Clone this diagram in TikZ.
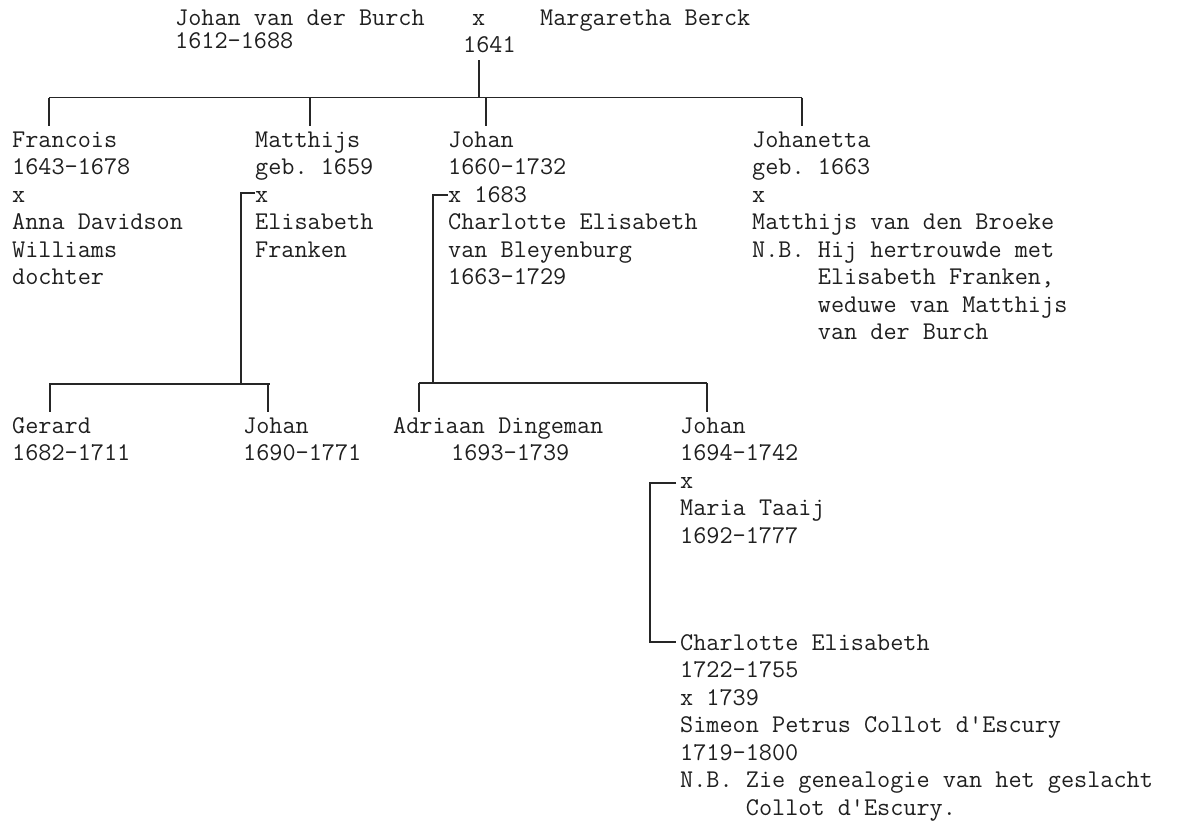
\documentclass[tikz,border=0pt]{standalone}
\usepackage{fontspec}
\begin{document}
\begin{tikzpicture}[x=1pt,y=-1pt,
  txt/.style={anchor=north west, inner sep=0pt, align=left,
    font=\fontsize{25.5}{27.5}\selectfont\ttfamily\frenchspacing, text=black!88},
  toptxt/.style={txt, font=\fontsize{25.5}{23}\selectfont\ttfamily\frenchspacing},
  ln/.style={draw=black!85, line width=1.3pt}]
\useasboundingbox (0,0) rectangle (1179,828);
\fill[white] (0,0) rectangle (1179,828);

% parents
\node[toptxt] (father) at (175,7) {\rule{0pt}{18pt}Johan van der Burch\\1612-1688};
\node[txt] (marx) at (472,7) {\rule{0pt}{18pt}x};
\node[txt] (mardate) at (463,34) {\rule{0pt}{18pt}1641};
\node[txt] (mother) at (540,7) {\rule{0pt}{18pt}Margaretha Berck};

% children
\node[txt] (francois) at (12,129) {\rule{0pt}{18pt}Francois\\1643-1678\\x\\Anna Davidson\\Williams\\dochter};
\node[txt] (matthijs) at (255,129) {\rule{0pt}{18pt}Matthijs\\geb. 1659\\x\\Elisabeth\\Franken};
\node[txt] (johan) at (448,129) {\rule{0pt}{18pt}Johan\\1660-1732\\x 1683\\Charlotte Elisabeth\\van Bleyenburg\\1663-1729};
\node[txt] (johanetta) at (752,129) {\rule{0pt}{18pt}Johanetta\\geb. 1663\\x\\Matthijs van den Broeke\\N.B. Hij hertrouwde met\\\phantom{N.B.\ }Elisabeth Franken,\\\phantom{N.B.\ }weduwe van Matthijs\\\phantom{N.B.\ }van der Burch};

% grandchildren
\node[txt] (gerard) at (12,415) {\rule{0pt}{18pt}Gerard\\1682-1711};
\node[txt] (johanb) at (243,415) {\rule{0pt}{18pt}Johan\\1690-1771};
\node[txt] (adriaan) at (393,415) {\rule{0pt}{18pt}Adriaan Dingeman\\\hspace*{58pt}1693-1739};
\node[txt] (johanc) at (680,415) {\rule{0pt}{18pt}Johan\\1694-1742\\x\\Maria Taaij\\1692-1777};
\node[txt] (charlotte) at (680,632) {\rule{0pt}{18pt}Charlotte Elisabeth\\1722-1755\\x 1739\\Simeon Petrus Collot d\textquotesingle Escury\\1719-1800\\N.B. Zie genealogie van het geslacht\\\phantom{N.B.\ }Collot d\textquotesingle Escury.};

% connector coordinates
\coordinate (m0) at (479,60);
\coordinate (m1) at (479,97.5);
\coordinate (hL) at (49,97.5);
\coordinate (hR) at (802,97.5);
\foreach \n/\xx in {df/49, dm/310, dj/486, dh/802}{
  \coordinate (\n a) at (\xx,97.5);
  \coordinate (\n b) at (\xx,126);
}
% Matthijs marriage
\coordinate (mt) at (255,193);
\coordinate (mc) at (241,193);
\coordinate (mb) at (241,384);
\coordinate (mL) at (49,384);
\coordinate (mR) at (270,384);
\coordinate (g1a) at (50,384);  \coordinate (g1b) at (50,412);
\coordinate (g2a) at (268,384); \coordinate (g2b) at (268,412);
% Johan marriage
\coordinate (jt) at (448,195);
\coordinate (jc) at (433,195);
\coordinate (jb) at (433,383);
\coordinate (jL) at (419,383);
\coordinate (jR) at (707,383);
\coordinate (g3a) at (419,383); \coordinate (g3b) at (419,412);
\coordinate (g4a) at (707,383); \coordinate (g4b) at (707,412);
% Johan (1694) marriage
\coordinate (kt) at (676,483);
\coordinate (kc) at (650,483);
\coordinate (kd) at (650,642);
\coordinate (ke) at (676,642);

\draw[ln] (m0) -- (m1);
\draw[ln] (hL) -- (hR);
\foreach \n in {df,dm,dj,dh}{ \draw[ln] (\n a) -- (\n b); }
\draw[ln] (mt) -- (mc) -- (mb);
\draw[ln] (mL) -- (mR);
\draw[ln] (g1a) -- (g1b);
\draw[ln] (g2a) -- (g2b);
\draw[ln] (jt) -- (jc) -- (jb);
\draw[ln] (jL) -- (jR);
\draw[ln] (g3a) -- (g3b);
\draw[ln] (g4a) -- (g4b);
\draw[ln] (kt) -- (kc) -- (kd) -- (ke);
\end{tikzpicture}
\end{document}
